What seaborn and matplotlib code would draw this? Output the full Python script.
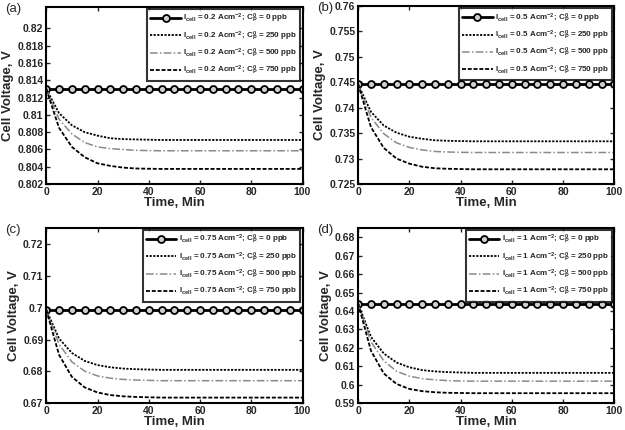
import numpy as np
import matplotlib
matplotlib.use("Agg")
import matplotlib.pyplot as plt
import seaborn as sns
from matplotlib.ticker import FuncFormatter

# 数据：时间（分钟）与电池电压（V）
time_min = [0, 5, 10, 15, 20, 25, 30, 35, 40, 45, 50,
            55, 60, 65, 70, 75, 80, 85, 90, 95, 100]

conc_ppb = [0, 250, 500, 750]
currents = ["0.2", "0.5", "0.75", "1"]
panel_tags = ["(a)", "(b)", "(c)", "(d)"]

# (a) I = 0.2 A/cm2
va_0 = [0.8130] * 21
va_250 = [0.8130, 0.8102, 0.8088, 0.8080, 0.8076, 0.8073, 0.8072, 0.80716, 0.80713, 0.8071, 0.8071,
          0.8071, 0.8071, 0.8071, 0.8071, 0.8071, 0.8071, 0.8071, 0.8071, 0.8071, 0.8071]
va_500 = [0.8130, 0.8095, 0.8078, 0.8068, 0.8063, 0.8061, 0.8060, 0.8059, 0.80587, 0.80585, 0.80585,
          0.80585, 0.80585, 0.80585, 0.80585, 0.80585, 0.80585, 0.80585, 0.80585, 0.80585, 0.80585]
va_750 = [0.8130, 0.8085, 0.8063, 0.8051, 0.8044, 0.8041, 0.8039, 0.8038, 0.80377, 0.80375, 0.80375,
          0.80375, 0.80375, 0.80375, 0.80375, 0.80375, 0.80375, 0.80375, 0.80375, 0.80375, 0.80375]

# (b) I = 0.5 A/cm2
vb_0 = [0.7446] * 21
vb_250 = [0.7446, 0.7392, 0.7365, 0.7351, 0.7343, 0.7339, 0.7336, 0.7335, 0.73345, 0.7334, 0.7334,
          0.7334, 0.7334, 0.7334, 0.7334, 0.7334, 0.7334, 0.7334, 0.7334, 0.7334, 0.7334]
vb_500 = [0.7446, 0.7381, 0.7349, 0.7331, 0.7322, 0.7317, 0.7314, 0.7313, 0.73124, 0.7312, 0.7312,
          0.7312, 0.7312, 0.7312, 0.7312, 0.7312, 0.7312, 0.7312, 0.7312, 0.7312, 0.7312]
vb_750 = [0.7446, 0.7362, 0.7321, 0.7300, 0.7290, 0.7284, 0.7281, 0.7280, 0.72795, 0.7279, 0.7279,
          0.7279, 0.7279, 0.7279, 0.7279, 0.7279, 0.7279, 0.7279, 0.7279, 0.7279, 0.7279]

# (c) I = 0.75 A/cm2
vc_0 = [0.6993] * 21
vc_250 = [0.6993, 0.6903, 0.6858, 0.6833, 0.6820, 0.6813, 0.6809, 0.6807, 0.6806, 0.6805, 0.6805,
          0.6805, 0.6805, 0.6805, 0.6805, 0.6805, 0.6805, 0.6805, 0.6805, 0.6805, 0.6805]
vc_500 = [0.6993, 0.6885, 0.6830, 0.6801, 0.6786, 0.6779, 0.6775, 0.6773, 0.6772, 0.6771, 0.6771,
          0.6771, 0.6771, 0.6771, 0.6771, 0.6771, 0.6771, 0.6771, 0.6771, 0.6771, 0.6771]
vc_750 = [0.6993, 0.6852, 0.6783, 0.6750, 0.6734, 0.6726, 0.6722, 0.6720, 0.6719, 0.6718, 0.6718,
          0.6718, 0.6718, 0.6718, 0.6718, 0.6718, 0.6718, 0.6718, 0.6718, 0.6718, 0.6718]

# (d) I = 1 A/cm2
vd_0 = [0.6440] * 21
vd_250 = [0.6440, 0.6260, 0.6170, 0.6121, 0.6095, 0.6080, 0.6073, 0.6069, 0.6067, 0.6065, 0.6065,
          0.6065, 0.6065, 0.6065, 0.6065, 0.6065, 0.6065, 0.6065, 0.6065, 0.6065, 0.6065]
vd_500 = [0.6440, 0.6234, 0.6130, 0.6074, 0.6047, 0.6034, 0.6027, 0.6023, 0.6021, 0.6020, 0.6020,
          0.6020, 0.6020, 0.6020, 0.6020, 0.6020, 0.6020, 0.6020, 0.6020, 0.6020, 0.6020]
vd_750 = [0.6440, 0.6185, 0.6062, 0.6005, 0.5978, 0.5966, 0.5960, 0.5957, 0.5956, 0.5955, 0.5955,
          0.5955, 0.5955, 0.5955, 0.5955, 0.5955, 0.5955, 0.5955, 0.5955, 0.5955, 0.5955]

panel_series = [
    [va_0, va_250, va_500, va_750],
    [vb_0, vb_250, vb_500, vb_750],
    [vc_0, vc_250, vc_500, vc_750],
    [vd_0, vd_250, vd_500, vd_750],
]
y_limits = [(0.802, 0.8225), (0.725, 0.76), (0.67, 0.725), (0.59, 0.685)]
y_ticks = [
    [0.802, 0.804, 0.806, 0.808, 0.81, 0.812, 0.814, 0.816, 0.818, 0.82],
    [0.725, 0.73, 0.735, 0.74, 0.745, 0.75, 0.755, 0.76],
    [0.67, 0.68, 0.69, 0.7, 0.71, 0.72],
    [0.59, 0.6, 0.61, 0.62, 0.63, 0.64, 0.65, 0.66, 0.67, 0.68],
]

# 样式
sns.set_style("ticks")
plt.rcParams["font.family"] = ["Liberation Sans", "DejaVu Sans"]
plt.rcParams["font.weight"] = "bold"
plt.rcParams["mathtext.fontset"] = "custom"
plt.rcParams["mathtext.bf"] = "Liberation Sans:bold"
plt.rcParams["mathtext.rm"] = "Liberation Sans:bold"
plt.rcParams["mathtext.default"] = "bf"

line_styles = [
    dict(color="black", linestyle="-", linewidth=2.0, marker="o", markersize=5,
         markerfacecolor="#d0d0d0", markeredgecolor="black", markeredgewidth=1.3),
    dict(color="black", linestyle=(0, (1.2, 0.8)), linewidth=1.3),
    dict(color="#8a8a8a", linestyle=(0, (5, 1.5, 1, 1.5)), linewidth=1.1),
    dict(color="black", linestyle=(0, (2.2, 1.0)), linewidth=1.3),
]

fig = plt.figure(figsize=(6.25, 4.3), dpi=100)
positions = [
    [0.074, 0.572, 0.410, 0.412],
    [0.573, 0.572, 0.410, 0.414],
    [0.074, 0.062, 0.410, 0.408],
    [0.573, 0.062, 0.410, 0.408],
]

for k in range(4):
    ax = fig.add_axes(positions[k])
    for j in range(4):
        lab = (r"$I_{cell}$ = " + currents[k] + r" Acm$^{-2}$; $C_P^0$ = "
               + str(conc_ppb[j]) + " ppb")
        sns.lineplot(x=time_min, y=panel_series[k][j], ax=ax, label=lab, **line_styles[j])
    ax.set_xlim(0, 100)
    ax.set_ylim(*y_limits[k])
    ax.set_xticks([0, 20, 40, 60, 80, 100])
    ax.set_yticks(y_ticks[k])
    ax.yaxis.set_major_formatter(FuncFormatter(lambda v, p: f"{v:.4g}"))
    ax.tick_params(direction="in", top=True, right=True, labelsize=7.5, length=3, width=1, pad=2)
    for lbl in ax.get_xticklabels() + ax.get_yticklabels():
        lbl.set_fontweight("bold")
    for sp in ax.spines.values():
        sp.set_linewidth(1.5)
        sp.set_color("black")
    ax.set_xlabel("Time, Min", fontsize=9.5, fontweight="bold", labelpad=0)
    ax.set_ylabel("Cell Voltage, V", fontsize=9.5, fontweight="bold", labelpad=2)
    leg = ax.legend(loc="upper right", fontsize=5.8, frameon=True, fancybox=False,
                    edgecolor="black", handlelength=3.8, borderpad=0.4,
                    labelspacing=0.5, handletextpad=0.3, borderaxespad=0.25)
    leg.get_frame().set_linewidth(1.5)
    bb = positions[k]
    fig.text(bb[0] - 0.066, bb[1] + bb[3] - 0.005, panel_tags[k], fontsize=9.5,
             fontweight="normal", va="center", ha="left")

fig.savefig("out.png", dpi=100, facecolor="white")
